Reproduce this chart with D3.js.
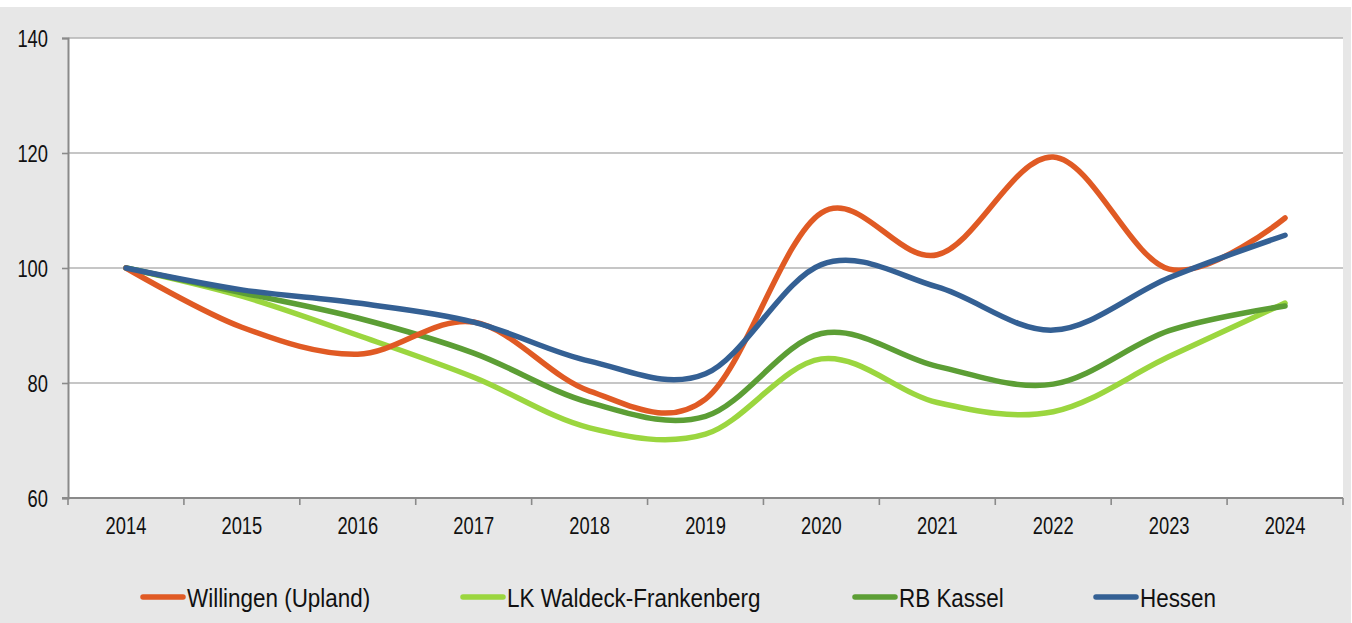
<!DOCTYPE html>
<html>
<head>
<meta charset="utf-8">
<script src="https://cdn.jsdelivr.net/npm/d3@7/dist/d3.min.js"></script>
<style>
  html, body { margin: 0; padding: 0; background: #ffffff; }
  svg { display: block; }
  text { font-family: "Liberation Sans", Arial, sans-serif; fill: #111; }
</style>
</head>
<body>
<svg id="chart" width="1352" height="623"></svg>
<script>
// Index values (2014 = 100)
const years = ["2014","2015","2016","2017","2018","2019","2020","2021","2022","2023","2024"];
const willingen = [100, 89.7, 85.0, 90.6, 78.6, 77.2, 109.6, 102.3, 119.3, 99.8, 108.7];
const waldeck   = [100, 95.1, 88.3, 81.0, 72.2, 71.1, 84.2, 76.6, 75.0, 84.6, 93.9];
const kassel    = [100, 95.7, 91.3, 85.2, 76.6, 74.2, 88.6, 82.9, 79.8, 89.1, 93.4];
const hessen    = [100, 96.2, 93.9, 90.6, 83.8, 81.6, 100.6, 96.7, 89.2, 98.3, 105.7];
const yTicks = [60, 80, 100, 120, 140];

const seriesNames  = ["Willingen (Upland)", "LK Waldeck-Frankenberg", "RB Kassel", "Hessen"];
const seriesValues = [willingen, waldeck, kassel, hessen];
const seriesColors = ["#e05a24", "#9bd63f", "#5c9e35", "#346094"];

const svg = d3.select("#chart");
const W = 1352, H = 623;
const plot = { left: 68, right: 1343, top: 38, bottom: 498 };

// panel background
svg.append("rect").attr("x", 0).attr("y", 7).attr("width", 1351).attr("height", H - 7).attr("fill", "#e7e7e7");
svg.append("rect").attr("x", plot.left).attr("y", plot.top)
  .attr("width", plot.right - plot.left).attr("height", plot.bottom - plot.top).attr("fill", "#ffffff");

const x = d3.scaleBand().domain(years).range([plot.left, plot.right]).paddingInner(0).paddingOuter(0);
const y = d3.scaleLinear().domain([60, 140]).range([plot.bottom, plot.top]);
const cx = d => x(d) + x.bandwidth() / 2;

// horizontal gridlines
svg.append("g").selectAll("line").data(yTicks.filter(v => v > 60)).join("line")
  .attr("x1", plot.left).attr("x2", plot.right)
  .attr("y1", d => y(d)).attr("y2", d => y(d))
  .attr("stroke", "#b3b3b3").attr("stroke-width", 1.6);

// y axis
const yAxis = svg.append("g").attr("transform", `translate(${plot.left},0)`)
  .call(d3.axisLeft(y).tickValues(yTicks).tickSize(6).tickPadding(14).tickFormat(d3.format("d")));
yAxis.select(".domain").attr("stroke", "#8a8a8a").attr("stroke-width", 2);
yAxis.selectAll(".tick line").attr("stroke", "#8a8a8a").attr("stroke-width", 1.6);
yAxis.selectAll(".tick text").each(function () {
  const t = d3.select(this);
  const tx = +t.attr("x");
  t.attr("x", null).attr("dy", null)
   .attr("transform", `translate(${tx},0) scale(0.78,1)`)
   .attr("dy", "0.36em")
   .style("font-size", "23.5px").style("font-family", "'Liberation Sans', Arial, sans-serif").attr("fill", "#111");
});

// x axis line with ticks at category boundaries
const xg = svg.append("g");
xg.append("line").attr("x1", plot.left - 6).attr("x2", plot.right)
  .attr("y1", plot.bottom).attr("y2", plot.bottom)
  .attr("stroke", "#8a8a8a").attr("stroke-width", 2);
const bounds = years.map(d => x(d)).concat([x(years[years.length - 1]) + x.bandwidth()]);
xg.selectAll("line.tk").data(bounds).join("line").attr("class", "tk")
  .attr("x1", d => d).attr("x2", d => d)
  .attr("y1", plot.bottom).attr("y2", plot.bottom + 7)
  .attr("stroke", "#8a8a8a").attr("stroke-width", 1.6);
xg.selectAll("text").data(years).join("text")
  .attr("transform", d => `translate(${cx(d)},534) scale(0.78,1)`)
  .attr("text-anchor", "middle")
  .style("font-size", "23.5px")
  .text(d => d);

// smoothed series lines
const line = d3.line()
  .x((v, i) => cx(years[i]))
  .y(v => y(v))
  .curve(d3.curveCatmullRom.alpha(0));

const order = [1, 2, 0, 3];
svg.append("g").selectAll("path").data(order).join("path")
  .attr("d", i => line(seriesValues[i]))
  .attr("fill", "none")
  .attr("stroke", i => seriesColors[i])
  .attr("stroke-width", 5.5)
  .attr("stroke-linecap", "round")
  .attr("stroke-linejoin", "round");

// legend
const legendX = [141, 461, 853, 1094];
const lg = svg.append("g");
seriesNames.forEach((name, i) => {
  const g = lg.append("g").attr("transform", `translate(${legendX[i]},0)`);
  g.append("line").attr("x1", 2).attr("x2", 42).attr("y1", 597).attr("y2", 597)
    .attr("stroke", seriesColors[i]).attr("stroke-width", 5.5).attr("stroke-linecap", "round");
  g.append("text")
    .attr("transform", "translate(46,606.5) scale(0.88,1)")
    .style("font-size", "25.5px")
    .text(name);
});
</script>
</body>
</html>
